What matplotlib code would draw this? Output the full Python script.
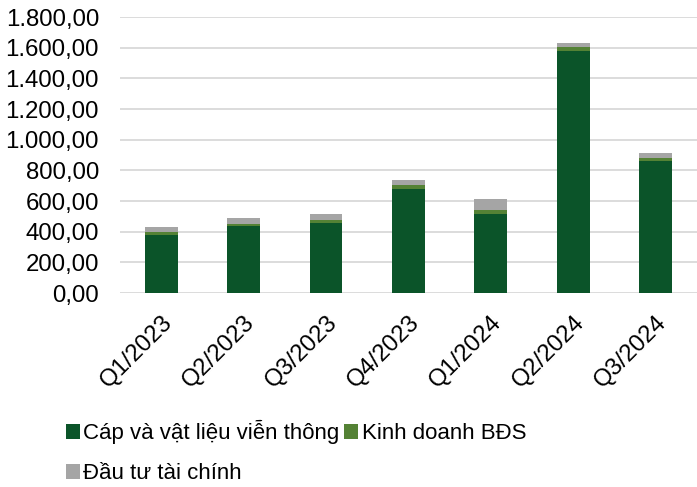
import matplotlib
matplotlib.use("Agg")
import matplotlib.pyplot as plt
from matplotlib.ticker import FuncFormatter

plt.rcParams['font.family'] = ['Liberation Sans', 'DejaVu Sans']

# Data
quarters = ["Q1/2023", "Q2/2023", "Q3/2023", "Q4/2023", "Q1/2024", "Q2/2024", "Q3/2024"]
cap_vien_thong = [380, 435, 458, 680, 517, 1580, 859]
kinh_doanh_bds = [18, 17, 18, 22, 24, 22, 21]
dau_tu_tai_chinh = [35, 35, 37, 39, 76, 26, 33]

labels = ["Cáp và vật liệu viễn thông", "Kinh doanh BĐS", "Đầu tư tài chính"]
colors = ["#0B5429", "#548235", "#A5A5A5"]


def vn_fmt(v, pos):
    s = f"{v:,.2f}"
    return s.replace(",", "X").replace(".", ",").replace("X", ".")


fig = plt.figure(figsize=(6.97, 4.87), dpi=100)
ax = fig.add_axes([0.172, 0.398, 0.828, 0.567])

x = range(len(quarters))
w = 0.4
b1 = ax.bar(x, cap_vien_thong, w, color=colors[0], label=labels[0], zorder=3)
b2 = ax.bar(x, kinh_doanh_bds, w, bottom=cap_vien_thong, color=colors[1], label=labels[1], zorder=3)
bottom3 = [a + b for a, b in zip(cap_vien_thong, kinh_doanh_bds)]
b3 = ax.bar(x, dau_tu_tai_chinh, w, bottom=bottom3, color=colors[2], label=labels[2], zorder=3)

ax.set_xlim(-0.5, len(quarters) - 0.5)
ax.set_ylim(0, 1800)
ax.set_yticks(range(0, 1801, 200))
ax.yaxis.set_major_formatter(FuncFormatter(vn_fmt))
ax.grid(axis='y', color='#D9D9D9', linewidth=1.3, zorder=0)
for s in ax.spines.values():
    s.set_visible(False)
ax.tick_params(axis='both', length=0, labelsize=17.3)
ax.tick_params(axis='y', pad=15)
ax.tick_params(axis='x', pad=13)

ax.set_xticks(list(x))
ax.set_xticklabels(quarters, rotation=45, ha='right', rotation_mode='anchor')

# order so that row 1 = item1, item2 and row 2 = item3
fig.legend([b1, b3, b2], [labels[0], labels[2], labels[1]],
           ncol=2, loc='upper left', bbox_to_anchor=(0.094, 0.137),
           frameon=False, fontsize=16, handlelength=0.65, handleheight=0.65,
           handletextpad=0.15, columnspacing=0.2, labelspacing=0.85,
           borderaxespad=0, borderpad=0)

fig.savefig("out.png", dpi=100)
